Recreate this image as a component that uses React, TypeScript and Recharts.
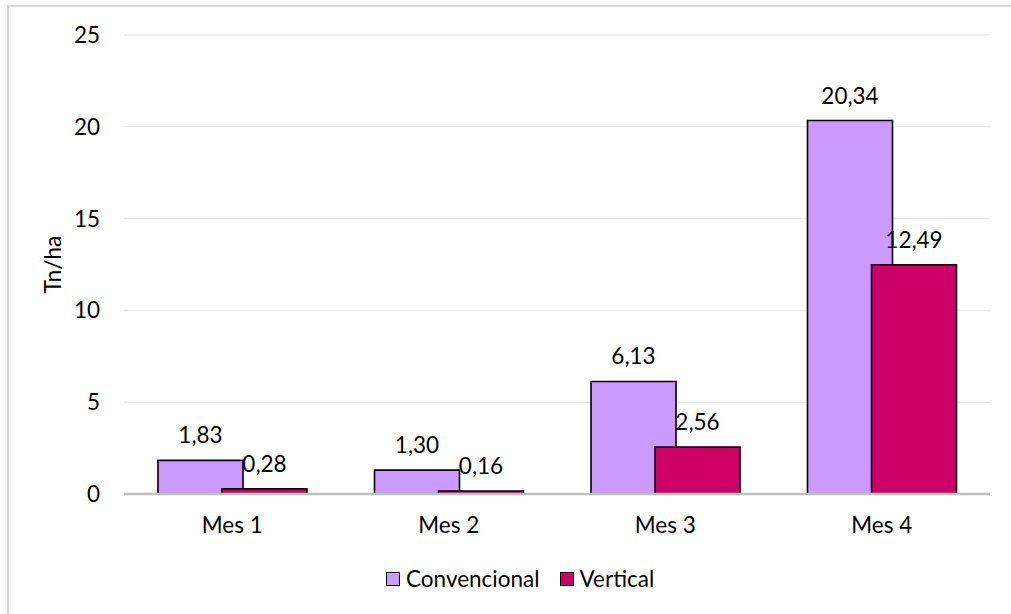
import React from 'react';
import { BarChart, Bar, XAxis, YAxis, CartesianGrid, LabelList } from 'recharts';

// Monthly yield per system (Tn/ha)
const months = ['Mes 1', 'Mes 2', 'Mes 3', 'Mes 4'];
const convencional = [1.83, 1.3, 6.13, 20.34];
const vertical = [0.28, 0.16, 2.56, 12.49];
const yTicks = [0, 5, 10, 15, 20, 25];

const seriesNames = { convencional: 'Convencional', vertical: 'Vertical' };
const colors = { convencional: '#CC99FF', vertical: '#CC0066' };

const data = months.map((m, i) => ({
  month: m,
  convencional: convencional[i],
  vertical: vertical[i],
}));

const FONT = 'Lato, "Liberation Sans", sans-serif';
const FS = 22.5;

const fmt = (v: any) => Number(v).toFixed(2).replace('.', ',');

const YTitle = (props: any) => {
  const vb = props.viewBox || { x: 0, y: 0, width: 0, height: 0 };
  const cx = vb.x - 3;
  const cy = vb.y + vb.height / 2;
  return (
    <text
      x={cx}
      y={cy}
      transform={`rotate(-90, ${cx}, ${cy})`}
      textAnchor="middle"
      fontFamily={FONT}
      fontSize={FS}
      fill="#000"
    >
      Tn/ha
    </text>
  );
};

export default function App() {
  const legendItems = [
    { key: 'convencional', name: seriesNames.convencional, color: colors.convencional },
    { key: 'vertical', name: seriesNames.vertical, color: colors.vertical },
  ];
  return (
    <div style={{ position: 'absolute', left: 0, top: 0, width: 1011, height: 614, background: '#fff', overflow: 'hidden' }}>
      <div
        style={{
          position: 'absolute',
          left: 7,
          top: 5,
          width: 1020,
          height: 640,
          border: '2px solid #D9D9D9',
          boxSizing: 'border-box',
        }}
      />
      <div style={{ position: 'absolute', left: 0, top: 0 }}>
        <BarChart
          width={1011}
          height={614}
          data={data}
          margin={{ top: 35, right: 21, bottom: 70, left: 64 }}
          barSize={85}
          barGap={-21}
        >
          <CartesianGrid vertical={false} stroke="#EBEBEB" strokeWidth={1.5} />
          <XAxis
            dataKey="month"
            axisLine={{ stroke: '#BFBFBF', strokeWidth: 2.5 }}
            tickLine={false}
            tickSize={0}
            tickMargin={23}
            height={50}
            tick={{ fill: '#000', fontFamily: FONT, fontSize: FS }}
          />
          <YAxis
            domain={[0, 25]}
            ticks={yTicks}
            axisLine={false}
            tickLine={false}
            tickSize={0}
            tickMargin={24}
            width={60}
            tick={{ fill: '#000', fontFamily: FONT, fontSize: FS }}
            label={<YTitle />}
          />
          <Bar dataKey="convencional" name={seriesNames.convencional} fill={colors.convencional} stroke="#000" strokeWidth={1.6} isAnimationActive={false}>
            <LabelList dataKey="convencional" position="top" offset={17} formatter={fmt} fill="#000" fontFamily={FONT} fontSize={FS} />
          </Bar>
          <Bar dataKey="vertical" name={seriesNames.vertical} fill={colors.vertical} stroke="#000" strokeWidth={1.6} isAnimationActive={false}>
            <LabelList dataKey="vertical" position="top" offset={17} formatter={fmt} fill="#000" fontFamily={FONT} fontSize={FS} />
          </Bar>
        </BarChart>
      </div>
      <div
        style={{
          position: 'absolute',
          left: 386,
          top: 565,
          display: 'flex',
          alignItems: 'center',
          fontFamily: FONT,
          fontSize: FS,
          color: '#000',
          lineHeight: '28px',
        }}
      >
        {legendItems.map((it, i) => (
          <div key={it.key} style={{ display: 'flex', alignItems: 'center', marginRight: i === 0 ? 20 : 0 }}>
            <span
              style={{
                display: 'inline-block',
                width: 14,
                height: 14,
                background: it.color,
                border: '1.5px solid #000',
                boxSizing: 'border-box',
                marginRight: 6,
              }}
            />
            <span>{it.name}</span>
          </div>
        ))}
      </div>
    </div>
  );
}
